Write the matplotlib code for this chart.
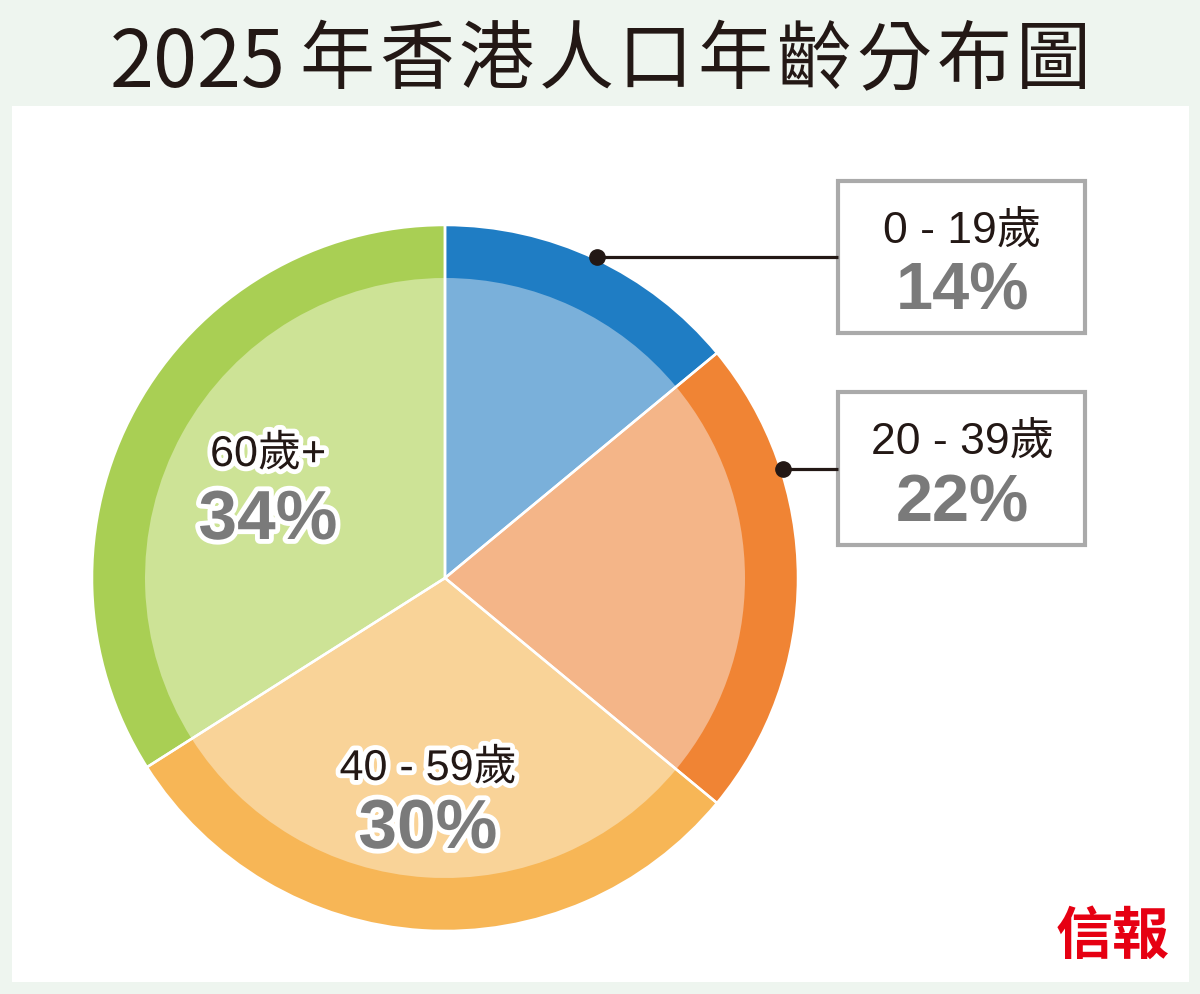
import numpy as np
import matplotlib
matplotlib.use("Agg")
import matplotlib.pyplot as plt
import matplotlib.patches as patches
import matplotlib.patheffects as pe

# data
title_year = "2025"
title_words = "年香港人口年齡分布圖"
groups = ["0 - 19歲", "20 - 39歲", "40 - 59歲", "60歲+"]
shares = [14, 22, 30, 34]
outer_colors = ["#1f7dc4", "#f08434", "#f7b656", "#a9cf54"]
inner_colors = ["#7ab0da", "#f4b588", "#f9d398", "#cde396"]
source = "信報"

W, H = 1200, 994
FONT = ["Liberation Sans", "Noto Sans CJK TC"]
TXT = "#231815"
GREY = "#7a7a7a"

def Y(y):
    # pixel row -> data y
    return H - y

fig = plt.figure(figsize=(W / 100, H / 100), dpi=100)
fig.patch.set_facecolor("#eef5ef")
ax = fig.add_axes([0, 0, 1, 1])

# white panel
ax.add_patch(patches.Rectangle((12, Y(982)), 1177, 876, facecolor="white",
                               edgecolor="none", zorder=0))

cx, cy = 445, Y(578)
R_out, R_in = 353, 300

ax.pie(shares, colors=outer_colors, radius=R_out, center=(cx, cy),
       startangle=90, counterclock=False, wedgeprops=dict(linewidth=0))
ax.pie(shares, colors=inner_colors, radius=R_in, center=(cx, cy),
       startangle=90, counterclock=False, wedgeprops=dict(linewidth=0))
ax.pie(shares, colors=["none"] * 4, radius=R_out, center=(cx, cy),
       startangle=90, counterclock=False,
       wedgeprops=dict(linewidth=1.8, edgecolor="white", facecolor="none"))

ax.set_xlim(0, W)
ax.set_ylim(0, H)
ax.set_aspect("auto")
ax.axis("off")

# title, spaced out like the original lettering
ax.text(198, Y(87), title_year, fontsize=57, color=TXT, ha="center",
        va="baseline", family=["Noto Sans CJK TC", "DejaVu Sans"])
for k, ch in enumerate(title_words):
    ax.text(337 + k * 79.6, Y(83), ch, fontsize=54, color=TXT, ha="center",
            va="baseline", family=["Noto Sans CJK TC", "DejaVu Sans"])

# callout boxes for the two small slices
boxes = [(838, 181, 247, 152), (838, 392, 247, 153)]
for i, (bx, by, bw, bh) in enumerate(boxes):
    ax.add_patch(patches.Rectangle((bx, Y(by + bh)), bw, bh, facecolor="white",
                                   edgecolor="#aaaaaa", linewidth=3, zorder=3))
    ly = by + bh / 2
    r = 355
    dy = cy - Y(ly)
    dx = np.sqrt(r ** 2 - dy ** 2)
    ax.plot([cx + dx, bx], [Y(ly), Y(ly)], color=TXT, lw=2.3, zorder=4,
            solid_capstyle="butt")
    ax.plot([cx + dx], [Y(ly)], "o", color=TXT, ms=11, zorder=5)
    tx = bx + bw / 2 + 1
    ax.text(tx, Y(by + 62), groups[i], fontsize=32, color=TXT, ha="center",
            va="baseline", family=FONT, zorder=6)
    ax.text(tx, Y(by + 129), f"{shares[i]}%", fontsize=48, color=GREY,
            ha="center", va="baseline", family=FONT, weight="bold", zorder=6)

# labels inside the big slices
stroke = [pe.withStroke(linewidth=7, foreground="white")]
inner_pos = {2: (428, 780, 848), 3: (268, 466, 539)}
for i, (tx, y1, y2) in inner_pos.items():
    ax.text(tx, Y(y1), groups[i], fontsize=31, color=TXT, ha="center",
            va="baseline", family=FONT, path_effects=stroke, zorder=6)
    ax.text(tx, Y(y2), f"{shares[i]}%", fontsize=50, color=GREY,
            ha="center", va="baseline", family=FONT, weight="bold",
            path_effects=stroke, zorder=6)

# source logo
ax.text(1113, Y(937), source, fontsize=41, color="#e60012", ha="center",
        va="center", family=["Noto Sans CJK TC"], weight="black")

fig.savefig("out.png", dpi=100, facecolor=fig.get_facecolor())
